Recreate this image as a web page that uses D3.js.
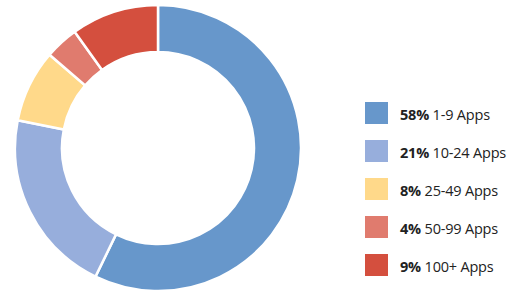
<!DOCTYPE html>
<html>
<head>
    <meta charset="utf-8">
    <script src="https://d3js.org/d3.v7.min.js"></script>
    <style>
      body { margin: 0; background: #fff; }
    </style>
</head>
<body>
    <script>
      // data
      const labels = ['1-9 Apps', '10-24 Apps', '25-49 Apps', '50-99 Apps', '100+ Apps'];
      const shares = [58, 21, 8, 4, 9];              // rounded figures shown in the legend
      const sliceValues = [57.2, 20.9, 8.2, 3.8, 9.9]; // slice sizes as read from the ring
      const colors = ['#6797cb', '#97aedc', '#ffd98a', '#e07b6e', '#d44f3e'];

      const width = 512, height = 296;
      const cx = 158, cy = 148;
      const outerR = 143, innerR = 96;

      const svg = d3.select('body').append('svg')
          .attr('width', width)
          .attr('height', height);

      const pie = d3.pie().value(d => d).sort(null);
      const arc = d3.arc().innerRadius(innerR).outerRadius(outerR);

      const color = d3.scaleOrdinal().domain(labels).range(colors);

      svg.append('g')
          .attr('transform', `translate(${cx},${cy})`)
        .selectAll('path')
        .data(pie(sliceValues))
        .enter().append('path')
          .attr('d', arc)
          .attr('fill', (d, i) => color(labels[i]))
          .attr('stroke', '#fff')
          .attr('stroke-width', 2.5);

      // legend
      const y = d3.scaleBand().domain(labels).range([93, 283]);

      const legend = svg.append('g').selectAll('g')
          .data(labels)
          .enter().append('g')
          .attr('transform', d => `translate(365,${y(d) + 9})`);

      legend.append('rect')
          .attr('width', 23)
          .attr('height', 22)
          .attr('fill', d => color(d));

      const txt = legend.append('text')
          .attr('x', 35)
          .attr('y', 18)
          .attr('font-family', 'Open Sans, sans-serif')
          .attr('font-size', 14.5)
          .attr('letter-spacing', -0.2)
          .attr('fill', '#222');
      txt.append('tspan')
          .attr('font-weight', 'bold')
          .text((d, i) => shares[i] + '%');
      txt.append('tspan')
          .text(d => ' ' + d);
    </script>
</body>
</html>
